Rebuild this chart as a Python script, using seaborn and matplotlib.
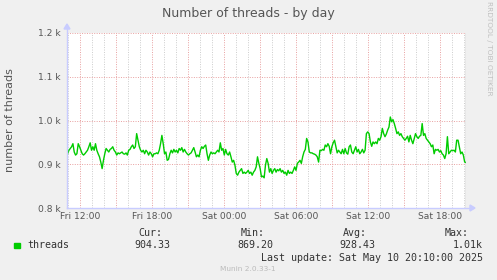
import numpy as np
import pandas as pd
import matplotlib
matplotlib.use("Agg")
import matplotlib.pyplot as plt
import seaborn as sns

# ---- data ----
threads = [
    924, 932, 936, 940, 947, 928, 921, 924, 947, 940, 932, 924, 921, 924, 928, 932, 940, 949, 932, 940,
    932, 947, 932, 924, 917, 905, 890, 909, 924, 936, 932, 928, 934, 936, 940, 932, 928, 921, 926, 924,
    926, 928, 924, 923, 926, 921, 932, 934, 940, 944, 936, 940, 970, 955, 940, 932, 928, 932, 924, 932,
    928, 921, 928, 924, 917, 924, 924, 926, 924, 932, 947, 966, 947, 924, 928, 909,
    911, 924, 932, 926, 934, 928, 932, 926, 936, 932, 938, 928, 934, 928, 924, 921, 924, 926, 932, 938,
    928, 917, 921, 917, 932, 940, 936, 941, 944, 924, 909, 921, 928, 924, 926, 924, 928, 932, 928, 949,
    932, 936, 921, 934, 924, 921, 928, 917, 905, 909, 898, 879, 875, 882, 886, 890, 879, 882, 879, 882,
    886, 879, 882, 875, 882, 886, 894, 917, 902, 890, 871, 873, 869, 898, 913,
    902, 882, 890, 879, 886, 890, 882, 888, 885, 890, 882, 886, 879, 882, 875, 886, 879, 882, 879, 886,
    894, 886, 902, 905, 909, 902, 917, 928, 934, 959, 951, 928, 926, 926, 924, 923, 921, 917, 905, 932,
    931, 934, 932, 944, 940, 947, 941, 924, 940, 949, 955, 940, 926, 932, 928, 924, 934, 924, 936, 926,
    923, 940, 944, 928, 924, 932, 940, 928, 934, 924, 928, 934, 926, 932, 970,
    974, 970, 951, 941, 951, 947, 951, 947, 959, 955, 963, 982, 970, 963, 969, 978, 985, 1008, 997, 1002,
    993, 982, 970, 974, 966, 970, 963, 959, 955, 959, 964, 951, 966, 955, 947, 959, 970, 963, 959, 964,
    966, 993, 966, 970, 959, 955, 951, 947, 940, 944, 924, 934, 932, 934, 928, 931, 924, 921, 913, 924,
    963, 924, 928, 932, 931, 932, 928, 955, 955, 940, 924, 928, 921, 905, 904,
]
y_ticks = [800, 900, 1000, 1100, 1200]
y_tick_labels = ["0.8 k", "0.9 k", "1.0 k", "1.1 k", "1.2 k"]
x_ticks = [12, 18, 24, 30, 36, 42]           # hours since Fri 00:00
x_tick_labels = ["Fri 12:00", "Fri 18:00", "Sat 00:00", "Sat 06:00", "Sat 12:00", "Sat 18:00"]
legend_name = "threads"
stat_heads = ["Cur:", "Min:", "Avg:", "Max:"]
stat_values = ["904.33", "869.20", "928.43", "1.01k"]

t_start, t_end = 10.917, 44.167
hours = np.linspace(t_start + 0.05, t_end, len(threads))
df = pd.DataFrame({"hour": hours, "threads": threads})

# ---- figure ----
W, H = 497, 280
fig = plt.figure(figsize=(W / 100, H / 100), dpi=100, facecolor="#F0F0F0")
L, R, T, B = 67, 466, 33, 208
ax = fig.add_axes([L / W, 1 - B / H, (R - L) / W, (B - T) / H])
ax.set_facecolor("white")

grid_red = "#E8A0A0"
grid_grey = "#CCCCCC"
for h in range(11, 45):
    if h % 3 == 0:
        ax.axvline(h, color=grid_red, lw=0.7, ls=(0, (1, 1.5)), zorder=1)
    else:
        ax.axvline(h, color=grid_grey, lw=0.7, ls=(0, (1, 1.5)), zorder=1)
for v in y_ticks:
    ax.axhline(v, color=grid_red, lw=0.7, ls=(0, (1, 1.5)), zorder=1)

sns.lineplot(data=df, x="hour", y="threads", ax=ax, color="#00CC00", lw=1.0, zorder=3)
ax.axvline(t_end, color="#888888", lw=1.0, zorder=4)

ax.set_xlim(t_start, t_end)
ax.set_ylim(800, 1200)
ax.set_xticks(x_ticks)
ax.set_xticklabels(x_tick_labels)
ax.set_yticks(y_ticks)
ax.set_yticklabels(y_tick_labels)
ax.tick_params(axis="both", length=0, labelsize=6.6, colors="#555555")
ax.tick_params(axis="x", pad=3)
ax.tick_params(axis="y", pad=4.5)
ax.set_xlabel("")
ax.set_ylabel("")
for s in ax.spines.values():
    s.set_visible(False)

# axis lines with arrows
axis_col = "#C8CCFF"
fig.add_artist(plt.Line2D([L / W, L / W], [1 - B / H, 1 - 28 / H], color=axis_col, lw=1.0))
fig.add_artist(plt.Line2D([L / W, 472 / W], [1 - B / H, 1 - B / H], color=axis_col, lw=1.0))
fig.add_artist(matplotlib.patches.Polygon(
    [[(L - 3) / W, 1 - 29 / H], [(L + 3) / W, 1 - 29 / H], [L / W, 1 - 24 / H]],
    closed=True, color=axis_col, transform=fig.transFigure))
fig.add_artist(matplotlib.patches.Polygon(
    [[470 / W, 1 - (B - 3) / H], [470 / W, 1 - (B + 3) / H], [475 / W, 1 - B / H]],
    closed=True, color=axis_col, transform=fig.transFigure))

# texts
fig.text(248 / W, 1 - 13 / H, "Number of threads - by day", ha="center", va="center",
         fontsize=9, color="#555555")
fig.text(10 / W, 1 - 120 / H, "number of threads", rotation=90, ha="center", va="center",
         fontsize=8, color="#555555")
fig.text(489 / W, 1 - 48 / H, "RRDTOOL / TOBI OETIKER", rotation=270, ha="center", va="center",
         fontsize=5.3, color="#C0C0C0")

mono = "DejaVu Sans Mono"
fig.patches.append(matplotlib.patches.Rectangle((14 / W, 1 - 248 / H), 6 / W, 5 / H,
                                                 color="#00CC00", transform=fig.transFigure))
fig.text(27 / W, 1 - 245 / H, legend_name, ha="left", va="center", fontsize=7.2,
         family=mono, color="#333333")
head_right = [162, 265, 367, 469]
val_right = [170, 273, 375, 483]
for hd, vl, hx, vx in zip(stat_heads, stat_values, head_right, val_right):
    fig.text(hx / W, 1 - 233 / H, hd, ha="right", va="center", fontsize=7.2, family=mono, color="#333333")
    fig.text(vx / W, 1 - 245 / H, vl, ha="right", va="center", fontsize=7.2, family=mono, color="#333333")
fig.text(483 / W, 1 - 258 / H, "Last update: Sat May 10 20:10:00 2025", ha="right", va="center",
         fontsize=7.2, family=mono, color="#333333")
fig.text(248 / W, 1 - 269 / H, "Munin 2.0.33-1", ha="center", va="center", fontsize=5.3,
         color="#BBBBBB")

fig.savefig("out.png", dpi=100, facecolor=fig.get_facecolor())
